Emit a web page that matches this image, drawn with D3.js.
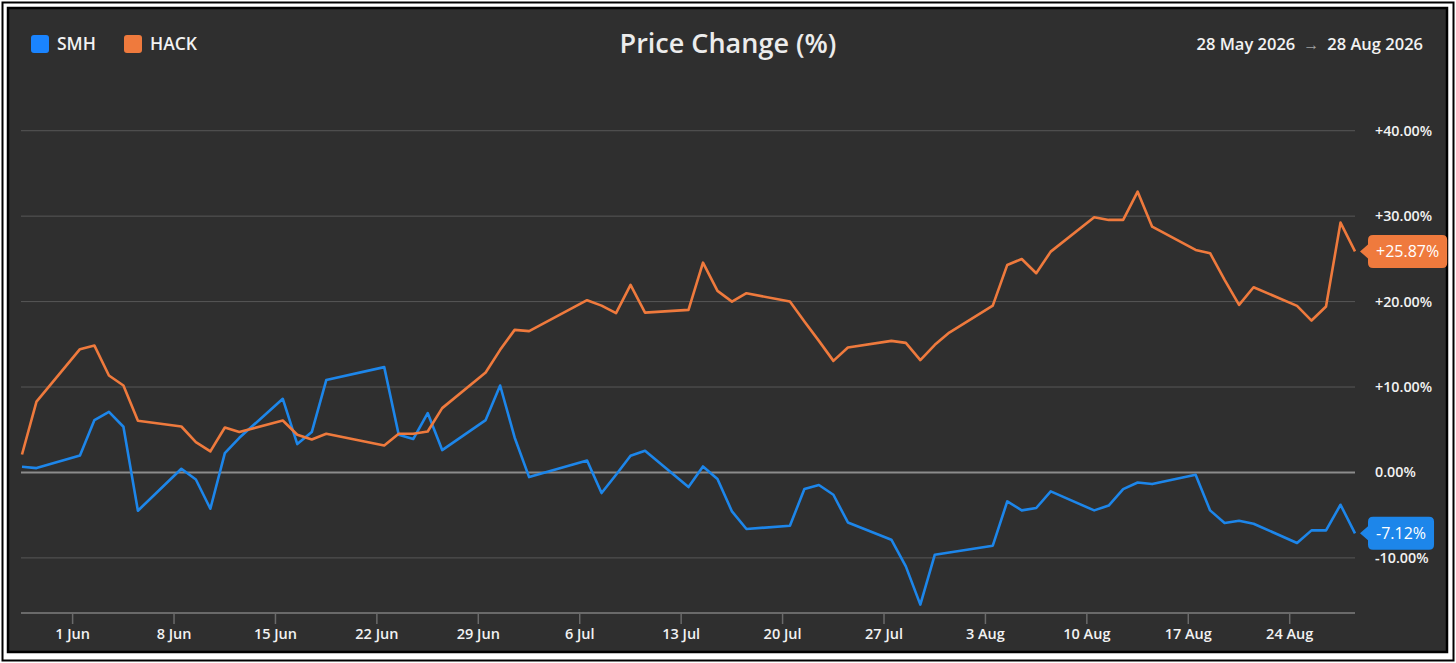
<!DOCTYPE html>
<html>
<head>
  <title>Price Change (%)</title>
  <script src="https://d3js.org/d3.v7.min.js"></script>
  <style>
    html, body { margin: 0; padding: 0; background: #fff; }
    text { font-family: "Open Sans", "Noto Sans", sans-serif; }
  </style>
</head>
<body>

<script>
// trading days, 28 May 2026 .. 28 Aug 2026
const dates = [
  '2026-05-28', '2026-05-29',
  '2026-06-01', '2026-06-02', '2026-06-03', '2026-06-04', '2026-06-05',
  '2026-06-08', '2026-06-09', '2026-06-10', '2026-06-11', '2026-06-12',
  '2026-06-15', '2026-06-16', '2026-06-17', '2026-06-18',
  '2026-06-22', '2026-06-23', '2026-06-24', '2026-06-25', '2026-06-26',
  '2026-06-29', '2026-06-30', '2026-07-01', '2026-07-02',
  '2026-07-06', '2026-07-07', '2026-07-08', '2026-07-09', '2026-07-10',
  '2026-07-13', '2026-07-14', '2026-07-15', '2026-07-16', '2026-07-17',
  '2026-07-20', '2026-07-21', '2026-07-22', '2026-07-23', '2026-07-24',
  '2026-07-27', '2026-07-28', '2026-07-29', '2026-07-30', '2026-07-31',
  '2026-08-03', '2026-08-04', '2026-08-05', '2026-08-06', '2026-08-07',
  '2026-08-10', '2026-08-11', '2026-08-12', '2026-08-13', '2026-08-14',
  '2026-08-17', '2026-08-18', '2026-08-19', '2026-08-20', '2026-08-21',
  '2026-08-24', '2026-08-25', '2026-08-26', '2026-08-27', '2026-08-28'
];

const smh = [
  0.67, 0.51,
  1.99, 6.13, 7.10, 5.35, -4.48,
  0.43, -0.82, -4.25, 2.27, 4.06,
  8.62, 3.32, 4.73, 10.81,
  12.33, 4.41, 3.91, 6.95, 2.62,
  6.13, 10.18, 4.10, -0.54,
  1.40, -2.41, -0.27, 1.95, 2.54,
  -1.71, 0.70, -0.77, -4.56, -6.62,
  -6.23, -1.94, -1.47, -2.61, -5.85,
  -7.87, -10.99, -15.47, -9.63, -9.37,
  -8.57, -3.39, -4.44, -4.16, -2.22,
  -4.44, -3.87, -1.95, -1.17, -1.36,
  -0.27, -4.44, -5.92, -5.65, -6.00,
  -8.26, -6.78, -6.78, -3.78, -7.12
];

const hack = [
  2.10, 8.30,
  14.43, 14.85, 11.35, 10.18, 6.05,
  5.38, 3.56, 2.46, 5.26, 4.73,
  6.08, 4.41, 3.86, 4.53,
  3.16, 4.53, 4.53, 4.80, 7.53,
  11.70, 14.35, 16.69, 16.54,
  20.16, 19.53, 18.64, 21.95, 18.71,
  19.03, 24.56, 21.25, 20.00, 20.98,
  20.00, 17.66, 15.40, 13.06, 14.62,
  15.40, 15.17, 13.15, 14.94, 16.37,
  19.53, 24.29, 24.99, 23.32, 25.85,
  29.87, 29.56, 29.56, 32.87, 28.77,
  26.05, 25.66, 22.54, 19.61, 21.68,
  19.50, 17.78, 19.42, 29.24, 25.87
];

const seriesNames = ['SMH', 'HACK'];
const seriesColors = ['#1d86ea', '#ef7a3d'];
const yTicks = [-10, 0, 10, 20, 30, 40];
const rangeLabel = ['28 May 2026', '28 Aug 2026'];

const width = 1456;
const height = 663;
const plot = { left: 22, right: 1355, top: 88, bottom: 613 };

const svg = d3.select('body')
  .append('svg')
  .attr('width', width)
  .attr('height', height);

// frame: outer thin border, white gap, then dark panel with its own border
svg.append('rect')
  .attr('x', 2.5).attr('y', 2.5)
  .attr('width', width - 5).attr('height', height - 5)
  .attr('fill', '#fff').attr('stroke', '#000').attr('stroke-width', 2);

svg.append('rect')
  .attr('x', 8).attr('y', 8)
  .attr('width', 1439).attr('height', 644)
  .attr('fill', '#2f2f2f').attr('stroke', '#000').attr('stroke-width', 2.5);

// data points sit at mid-day on each trading day
const parse = s => new Date(s + 'T13:00:00Z');
const t = dates.map(parse);

const x = d3.scaleUtc()
  .domain([t[0], t[t.length - 1]])
  .range([plot.left, plot.right]);

const y = d3.scaleLinear()
  .domain([-16.45, 45])
  .range([plot.bottom, plot.top]);

const fmt = v => (v > 0 ? '+' : '') + v.toFixed(2) + '%';

// gridlines
svg.append('g')
  .selectAll('line')
  .data(yTicks)
  .join('line')
    .attr('x1', plot.left - 1).attr('x2', plot.right)
    .attr('y1', d => y(d)).attr('y2', d => y(d))
    .attr('stroke', d => d === 0 ? '#8c8c8c' : '#575757')
    .attr('stroke-width', d => d === 0 ? 2 : 1);

// right-hand y labels
svg.append('g')
  .selectAll('text')
  .data(yTicks)
  .join('text')
    .attr('x', 1375)
    .attr('y', d => y(d))
    .attr('dy', '0.35em')
    .attr('fill', '#f2f2f2')
    .attr('font-size', 14.3)
    .attr('font-weight', 600)
    .text(fmt);

// x axis on Mondays
const xAxis = d3.axisBottom(x)
  .ticks(d3.utcMonday.every(1))
  .tickFormat(d3.utcFormat('%-d %b'))
  .tickSize(11)
  .tickPadding(5);

const gx = svg.append('g')
  .attr('transform', `translate(0,${plot.bottom})`)
  .call(xAxis);

gx.select('.domain')
  .attr('d', `M${plot.left - 1},0H${plot.right}`)
  .attr('stroke', '#6a6a6a')
  .attr('stroke-width', 2);
gx.selectAll('.tick line').attr('stroke', '#6a6a6a').attr('stroke-width', 1.5);
gx.selectAll('.tick text')
  .attr('fill', '#f2f2f2')
  .attr('font-size', 14.5)
  .attr('font-weight', 600)
  .attr('font-family', '"Open Sans", sans-serif');

// lines
const series = [smh, hack];
const line = d3.line()
  .x((d, i) => x(t[i]))
  .y(d => y(d));

svg.append('g')
  .selectAll('path')
  .data(series)
  .join('path')
    .attr('d', line)
    .attr('fill', 'none')
    .attr('stroke', (d, i) => seriesColors[i])
    .attr('stroke-width', 2.6)
    .attr('stroke-linejoin', 'round');

// last-value tags
series.forEach((s, i) => {
  const v = s[s.length - 1];
  const cy = y(v);
  const g = svg.append('g');
  const txt = g.append('text')
    .attr('x', 1376)
    .attr('y', cy)
    .attr('dy', '0.36em')
    .attr('fill', '#fff')
    .attr('font-size', 16)
    .text(fmt(v));
  const w = txt.node().getComputedTextLength();
  const bx = 1368, bh = 33;
  g.insert('path', 'text')
    .attr('d', `M${plot.right + 5},${cy}L${bx},${cy - 7}V${cy - bh / 2 + 5}` +
      `Q${bx},${cy - bh / 2} ${bx + 5},${cy - bh / 2}H${bx + w + 11}` +
      `Q${bx + w + 16},${cy - bh / 2} ${bx + w + 16},${cy - bh / 2 + 5}V${cy + bh / 2 - 5}` +
      `Q${bx + w + 16},${cy + bh / 2} ${bx + w + 11},${cy + bh / 2}H${bx + 5}` +
      `Q${bx},${cy + bh / 2} ${bx},${cy + bh / 2 - 5}V${cy + 7}Z`)
    .attr('fill', seriesColors[i]);
});

// legend
const legend = svg.append('g')
  .selectAll('g')
  .data(seriesNames)
  .join('g')
    .attr('transform', (d, i) => `translate(${31 + i * 93},35)`);

legend.append('rect')
  .attr('width', 18).attr('height', 18).attr('rx', 3)
  .attr('fill', (d, i) => i === 0 ? '#1a84ff' : '#ef7a3d');

legend.append('text')
  .attr('x', 26).attr('y', 9).attr('dy', '0.36em')
  .attr('fill', '#f2f2f2')
  .attr('font-size', 17.5)
  .attr('font-weight', 600)
  .text(d => d);

// title
svg.append('text')
  .attr('x', 728).attr('y', 44).attr('dy', '0.35em')
  .attr('text-anchor', 'middle')
  .attr('fill', '#ececec')
  .attr('font-size', 27)
  .attr('font-weight', 600)
  .text('Price Change (%)');

// date range
const range = svg.append('text')
  .attr('x', 1423).attr('y', 44).attr('dy', '0.35em')
  .attr('text-anchor', 'end')
  .attr('fill', '#f2f2f2')
  .attr('font-size', 16.5)
  .attr('font-weight', 600);
range.append('tspan').text(rangeLabel[0]);
range.append('tspan').attr('fill', '#a0a0a0').attr('font-size', 16).attr('font-weight', 400).attr('dx', 8).text('→');
range.append('tspan').attr('dx', 8).text(rangeLabel[1]);

</script>

</body>
</html>
